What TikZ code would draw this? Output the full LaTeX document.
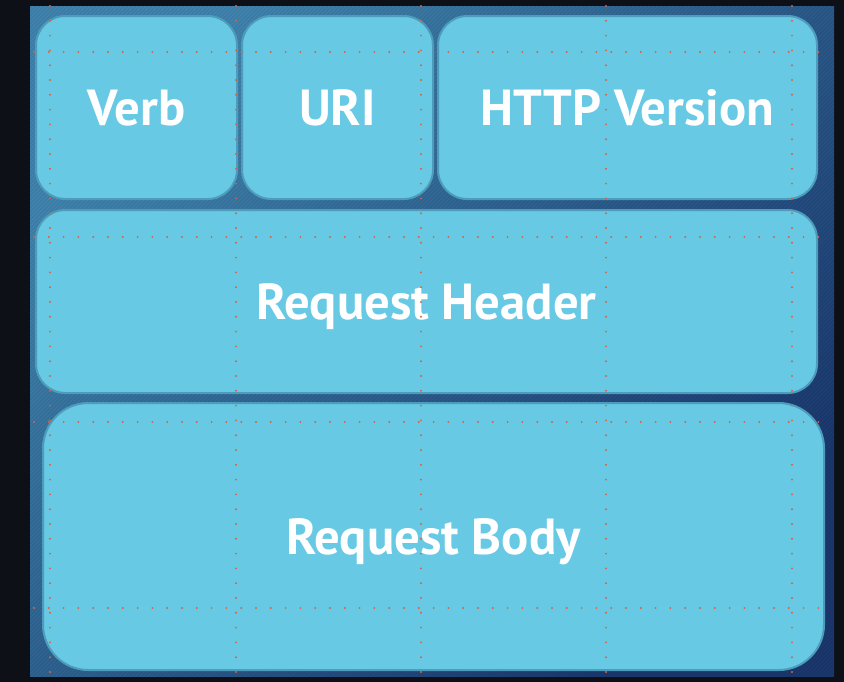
\documentclass[tikz,border=0pt]{standalone}
\usepackage{fontspec}
\setsansfont{PT Sans}
\usetikzlibrary{patterns}

\definecolor{pagedark}{HTML}{0D1117}
\definecolor{bgtop}{HTML}{4083AC}
\definecolor{bgbottom}{HTML}{1B376C}
\definecolor{boxfill}{HTML}{67C9E4}
\definecolor{boxline}{HTML}{4E9CBC}
\definecolor{griddot}{HTML}{D8643E}

\tikzset{
  part/.style={rounded corners=22pt, fill=boxfill, draw=boxline, line width=1.5pt,
    inner sep=0pt, outer sep=0pt, text=white, text height=26.6pt, text depth=0pt,
    font=\sffamily\bfseries\fontsize{38}{40}\selectfont},
  gridline/.style={griddot, line width=1.6pt, line cap=round, dash pattern=on 0pt off 11.1pt}
}

\begin{document}
\begin{tikzpicture}[x=0.75pt,y=-0.75pt]
\fill[pagedark] (0,0) rectangle (844,682);
\useasboundingbox (0,0) rectangle (844,682);
% backdrop
\shade[top color=bgtop, bottom color=bgbottom, shading angle=45] (30,6) rectangle (834,676);
\fill[pattern=north east lines, pattern color=black, opacity=0.10] (30,6) rectangle (834,676);
% request line
\begin{scope}[every node/.style={part, minimum height=137.25pt}]
\node (verb) at (136.5,107.5) [minimum width=150.75pt] {Verb};
\node (uri) at (337.5,107.5) [minimum width=143.25pt] {URI};
\node (version) at (627.5,107.5) [minimum width=284.25pt] {HTTP Version};
\node (header) at (426.5,301.5) [minimum width=585.75pt] {Request Header};
\end{scope}
\node (body) at (433.5,536.5) [part, rounded corners=34pt, minimum width=585.75pt, minimum height=200.25pt] {Request Body};
% guide grid
\foreach \gx in {50,236,421,606,792}
  \draw[gridline] (\gx,6) -- (\gx,676);
\foreach \gy in {52,237,422,608}
  \draw[gridline] (34,\gy) -- (822,\gy);
\end{tikzpicture}
\end{document}
